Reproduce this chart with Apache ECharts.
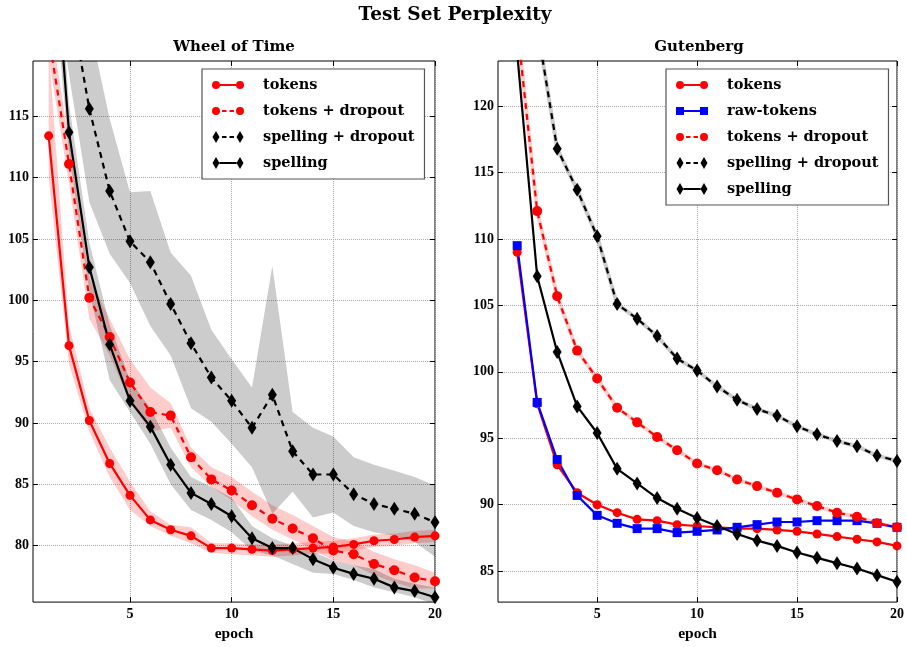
<!DOCTYPE html>
<html>
<head>
<meta charset="utf-8">
<script src="https://cdn.jsdelivr.net/npm/echarts@6/dist/echarts.min.js"></script>
<style>
html,body{margin:0;padding:0;background:#fff;}
#chart{width:907px;height:647px;}
</style>
</head>
<body>
<div id="chart"></div>
<script>
// ---------- data ----------
const epochs = [1,2,3,4,5,6,7,8,9,10,11,12,13,14,15,16,17,18,19,20];
const xTicks = [5,10,15,20];
const wotYTicks = [80,85,90,95,100,105,110,115];
const gutYTicks = [85,90,95,100,105,110,115,120];

// Wheel of Time
const wotTokens    = [113.4,96.3,90.2,86.7,84.1,82.1,81.3,80.8,79.8,79.8,79.7,79.6,79.7,79.8,79.9,80.1,80.4,80.5,80.7,80.8];
const wotTokensLo  = [110.0,94.8,89.3,85.6,82.9,81.6,80.8,80.2,79.4,79.3,79.2,79.1,79.2,79.3,79.4,79.6,79.9,80.0,80.2,80.3];
const wotTokensHi  = [120.5,98.0,91.2,88.0,85.2,82.8,81.7,81.5,80.2,80.2,80.1,80.1,80.2,80.3,80.4,80.6,80.9,81.0,81.2,81.3];

const wotTokDrop   = [121.6,111.1,100.2,97.0,93.3,90.9,90.6,87.2,85.4,84.5,83.3,82.2,81.4,80.6,79.6,79.3,78.5,78.0,77.4,77.1];
const wotTokDropLo = [119.8,109.5,98.5,95.5,91.7,89.3,89.6,86.4,84.8,83.7,82.4,81.3,80.5,79.7,78.8,78.4,77.6,77.0,76.5,76.5];
const wotTokDropHi = [123.5,113.0,101.8,98.5,95.2,92.9,91.6,88.0,86.4,85.6,84.4,83.3,82.5,81.6,80.7,80.3,79.5,78.9,78.4,77.8];

const wotSpellDrop   = [135,125,115.6,108.9,104.8,103.1,99.7,96.5,93.7,91.8,89.6,92.3,87.7,85.8,85.8,84.2,83.4,83.0,82.6,81.9];
const wotSpellDropLo = [130,118.4,108.0,103.8,101.4,97.9,95.5,91.2,90.1,88.3,86.4,82.6,84.4,82.3,82.7,81.6,81.1,80.8,80.3,79.1];
const wotSpellDropHi = [145,131,122.5,114.8,108.8,108.9,103.9,102.0,97.6,95.2,92.9,102.8,90.9,89.6,88.9,87.2,86.6,86.1,85.6,84.9];

const wotSpell   = [135,113.7,102.7,96.4,91.8,89.7,86.6,84.3,83.4,82.4,80.6,79.8,79.8,78.9,78.2,77.7,77.3,76.6,76.3,75.8];
const wotSpellLo = [130,112.0,100.7,93.5,90.9,88.3,85.0,82.9,82.1,81.1,79.6,79.2,78.5,77.8,77.7,77.2,76.6,76.2,75.8,75.2];
const wotSpellHi = [140,116.0,104.7,98.0,93.5,91.2,88.0,85.6,84.8,83.9,81.6,80.6,80.0,79.5,78.8,78.4,78.1,77.3,76.9,76.6];

// Gutenberg
const gutTokens    = [109.0,97.6,93.0,90.9,90.0,89.4,88.9,88.8,88.5,88.4,88.3,88.2,88.2,88.1,88.0,87.8,87.6,87.4,87.2,86.9];
const gutRawTokens = [109.5,97.7,93.4,90.7,89.2,88.6,88.2,88.2,87.9,88.0,88.1,88.3,88.5,88.7,88.7,88.8,88.8,88.8,88.6,88.3];
const gutTokDrop   = [126.0,112.1,105.7,101.6,99.5,97.3,96.2,95.1,94.1,93.1,92.6,91.9,91.4,90.9,90.4,89.9,89.4,89.1,88.6,88.3];
const gutSpellDrop = [135,126,116.8,113.7,110.2,105.1,104.0,102.7,101.0,100.1,98.9,97.9,97.2,96.7,95.9,95.3,94.8,94.4,93.7,93.3];
const gutSpell     = [124,107.2,101.5,97.4,95.4,92.7,91.6,90.5,89.7,89.0,88.4,87.8,87.3,86.9,86.4,86.0,85.6,85.2,84.7,84.2];

// ---------- helpers ----------
const FONT = 'DejaVu Serif';
const TICKFONT = 'Liberation Serif';
const RED = '#ff0000', BLUE = '#0000ff', BLACK = '#000000';
const pairs = (ys) => epochs.map((x, i) => [x, ys[i]]);

function band(name, lo, hi, color, g) {
  return {type:'custom', name:name, xAxisIndex:g, yAxisIndex:g, clip:true, silent:true, z:1,
    data: epochs.map((x, i) => [x, lo[i], hi[i]]),
    encode:{x:0, y:[1,2]},
    renderItem: function (params, api) {
      if (params.dataIndex !== 0) return null;
      const pts = [];
      for (let i = 0; i < epochs.length; i++) pts.push(api.coord([epochs[i], hi[i]]));
      for (let i = epochs.length - 1; i >= 0; i--) pts.push(api.coord([epochs[i], lo[i]]));
      return {type:'polygon', shape:{points:pts}, style:{fill:color, stroke:null}};
    }};
}
function line(name, ys, color, dashed, symbol, g) {
  let size = 9;
  if (symbol === 'diamond') size = [9, 14];
  if (symbol === 'rect') size = 9;
  if (symbol === 'circle' && dashed) size = 10;
  return {type:'line', name:name, xAxisIndex:g, yAxisIndex:g, data:pairs(ys),
    symbol:symbol, symbolSize:size, showSymbol:true,
    itemStyle:{color:color, borderWidth:0},
    lineStyle:{color:color, width:2.2, type: dashed ? [6,5] : 'solid'}, z:3};
}
// soft halo under a dashed line (style only, same data)
function halo(ys, color, g) {
  return {type:'line', name:'halo', xAxisIndex:g, yAxisIndex:g, data:pairs(ys), symbol:'none',
    silent:true, lineStyle:{color:color, width:4}, z:2};
}
const labelStyle = {fontFamily:TICKFONT, fontWeight:'bold', fontSize:14, color:'#000'};
function xAx(g, min, max, pos) {
  const main = pos === 'bottom';
  return {type:'value', gridIndex:g, min:min, max:max, position:pos,
    axisLine:{show:false},
    axisTick:{show:true, inside:true, length:5, customValues:xTicks, lineStyle:{color:'#000'}},
    axisLabel:{show:main, customValues:xTicks, margin:5, ...labelStyle},
    splitLine:{show:main, lineStyle:{color:'#aaaaaa', type:'dotted', width:1}},
    name: main ? 'epoch' : '', nameLocation:'middle', nameGap:21,
    nameTextStyle:{fontFamily:TICKFONT, fontWeight:'bold', fontSize:15.5, color:'#000'}};
}
function yAx(g, min, max, ticks, pos) {
  const main = pos === 'left';
  return {type:'value', gridIndex:g, min:min, max:max, position:pos,
    axisLine:{show:false},
    axisTick:{show:true, inside:true, length:5, customValues:ticks, lineStyle:{color:'#000'}},
    axisLabel:{show:main, customValues:ticks, margin:4, ...labelStyle},
    splitLine:{show:main, lineStyle:{color:'#aaaaaa', type:'dotted', width:1}}};
}
// legend icons: line sample with a marker at each end (32 x 12 box)
const ICON = {
  circleSolid:  'path://M0,6A4,4 0 1,1 8,6A4,4 0 1,1 0,6Z M24,6A4,4 0 1,1 32,6A4,4 0 1,1 24,6Z M8,5L24,5L24,7L8,7Z',
  circleDash:   'path://M0,6A4,4 0 1,1 8,6A4,4 0 1,1 0,6Z M24,6A4,4 0 1,1 32,6A4,4 0 1,1 24,6Z M10,5L14.5,5L14.5,7L10,7Z M17.5,5L22,5L22,7L17.5,7Z',
  rectSolid:    'path://M0,2L8,2L8,10L0,10Z M24,2L32,2L32,10L24,10Z M8,5L24,5L24,7L8,7Z',
  diamondSolid: 'path://M4,0L7.5,6L4,12L0.5,6Z M28,0L31.5,6L28,12L24.5,6Z M7.5,5L24.5,5L24.5,7L7.5,7Z',
  diamondDash:  'path://M4,0L7.5,6L4,12L0.5,6Z M28,0L31.5,6L28,12L24.5,6Z M10,5L14.5,5L14.5,7L10,7Z M17.5,5L22,5L22,7L17.5,7Z'
};
const legendText = {fontFamily:FONT, fontWeight:'bold', fontSize:14.5, color:'#000', lineHeight:20, padding:[0,0,0,14]};
const legendBase = {orient:'vertical', itemWidth:32, itemHeight:12, itemGap:6,
  padding:[6,10,6,10], borderColor:'#555', borderWidth:1.2, backgroundColor:'#fff', textStyle:legendText};

const chart = echarts.init(document.getElementById('chart'), null, {renderer:'canvas'});
chart.setOption({
  animation:false,
  backgroundColor:'#fff',
  title:[
    {text:'Test Set Perplexity', left:455, top:6, textAlign:'center', padding:0,
     textStyle:{fontFamily:FONT, fontWeight:'bold', fontSize:18.5, color:'#000'}},
    {text:'Wheel of Time', left:234, top:40, textAlign:'center', padding:0,
     textStyle:{fontFamily:FONT, fontWeight:'bold', fontSize:15, color:'#000'}},
    {text:'Gutenberg', left:699, top:40, textAlign:'center', padding:0,
     textStyle:{fontFamily:FONT, fontWeight:'bold', fontSize:15, color:'#000'}}
  ],
  grid:[
    {left:33, top:61, width:402, height:549, show:true, borderColor:'#000', borderWidth:1, backgroundColor:'transparent'},
    {left:498, top:61, width:402, height:550, show:true, borderColor:'#000', borderWidth:1, backgroundColor:'transparent'}
  ],
  xAxis:[xAx(0,0.23,20,'bottom'), xAx(1,0.04,20,'bottom'), xAx(0,0.23,20,'top'), xAx(1,0.04,20,'top')],
  yAxis:[yAx(0,75.4,119.5,wotYTicks,'left'), yAx(1,82.67,123.4,gutYTicks,'left'),
         yAx(0,75.4,119.5,wotYTicks,'right'), yAx(1,82.67,123.4,gutYTicks,'right')],
  legend:[
    {...legendBase, left:202, top:69,
     data:[{name:'tokens', icon:ICON.circleSolid}, {name:'tokens + dropout', icon:ICON.circleDash},
           {name:'spelling + dropout', icon:ICON.diamondDash}, {name:'spelling', icon:ICON.diamondSolid}]},
    {...legendBase, left:666, top:69,
     data:[{name:'tokens', icon:ICON.circleSolid}, {name:'raw-tokens', icon:ICON.rectSolid},
           {name:'tokens + dropout', icon:ICON.circleDash}, {name:'spelling + dropout', icon:ICON.diamondDash},
           {name:'spelling', icon:ICON.diamondSolid}]}
  ],
  series:[
    band('wotTokBand', wotTokensLo, wotTokensHi, 'rgba(255,0,0,0.2)', 0),
    band('wotTokDropBand', wotTokDropLo, wotTokDropHi, 'rgba(255,0,0,0.2)', 0),
    band('wotSpellDropBand', wotSpellDropLo, wotSpellDropHi, 'rgba(0,0,0,0.2)', 0),
    band('wotSpellBand', wotSpellLo, wotSpellHi, 'rgba(0,0,0,0.2)', 0),
    line('tokens', wotTokens, RED, false, 'circle', 0),
    line('tokens + dropout', wotTokDrop, RED, true, 'circle', 0),
    line('spelling + dropout', wotSpellDrop, BLACK, true, 'diamond', 0),
    line('spelling', wotSpell, BLACK, false, 'diamond', 0),
    halo(gutTokDrop, 'rgba(255,0,0,0.2)', 1),
    halo(gutSpellDrop, 'rgba(0,0,0,0.2)', 1),
    line('tokens', gutTokens, RED, false, 'circle', 1),
    line('raw-tokens', gutRawTokens, BLUE, false, 'rect', 1),
    line('tokens + dropout', gutTokDrop, RED, true, 'circle', 1),
    line('spelling + dropout', gutSpellDrop, BLACK, true, 'diamond', 1),
    line('spelling', gutSpell, BLACK, false, 'diamond', 1)
  ]
});
</script>
</body>
</html>
